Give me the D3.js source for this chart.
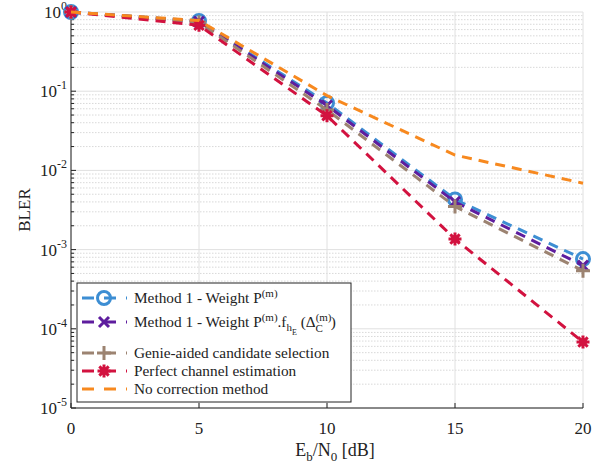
<!DOCTYPE html>
<html>
<head>
<meta charset="utf-8">
<script src="https://cdn.jsdelivr.net/npm/d3@7"></script>
<style>
  body { margin: 0; background: #fff; }
</style>
</head>
<body>
<div id="chart"></div>
<script>
const snr = [0, 5, 10, 15, 20];
const method1 = [1.0, 0.77, 0.071, 0.0043, 0.00076];
const method1Weighted = [1.0, 0.76, 0.066, 0.0040, 0.00063];
const genie = [1.0, 0.74, 0.058, 0.0035, 0.00054];
const perfect = [1.0, 0.68, 0.049, 0.00136, 0.000068];
const noCorrection = [1.0, 0.78, 0.088, 0.0156, 0.0069];
const xTicks = [0, 5, 10, 15, 20];
const yDecades = [0, -1, -2, -3, -4, -5];

const series = [
  { name: 'm1', values: method1, color: '#3d8ed3', marker: 'circle' },
  { name: 'm1w', values: method1Weighted, color: '#5e1d9e', marker: 'cross' },
  { name: 'genie', values: genie, color: '#9c8371', marker: 'plus' },
  { name: 'perfect', values: perfect, color: '#d2123f', marker: 'star' },
  { name: 'none', values: noCorrection, color: '#f7891f', marker: null }
];

const width = 605, height = 472;
const margin = { left: 71, right: 22, top: 12, bottom: 64 };
const serif = "'Liberation Serif', 'Times New Roman', 'DejaVu Serif', serif";
const svg = d3.select('#chart').append('svg')
  .attr('width', width).attr('height', height)
  .attr('font-family', serif)
  .style('font-family', serif);

const x = d3.scaleLinear().domain([0, 20]).range([margin.left, width - margin.right]);
const y = d3.scaleLog().domain([1e-5, 1]).range([height - margin.bottom, margin.top]);

const grid = svg.append('g');
// minor grid
yDecades.slice(1).forEach(p => {
  for (let k = 2; k <= 9; k++) {
    const v = k * Math.pow(10, p);
    grid.append('line')
      .attr('x1', x(0)).attr('x2', x(20))
      .attr('y1', y(v)).attr('y2', y(v))
      .attr('stroke', '#cfcfcf').attr('stroke-width', 0.8)
      .attr('stroke-dasharray', '1.5,1.5');
  }
});
// major grid
yDecades.forEach(p => {
  grid.append('line')
    .attr('x1', x(0)).attr('x2', x(20))
    .attr('y1', y(Math.pow(10, p))).attr('y2', y(Math.pow(10, p)))
    .attr('stroke', '#e0e0e0').attr('stroke-width', 1);
});
xTicks.forEach(t => {
  grid.append('line')
    .attr('x1', x(t)).attr('x2', x(t))
    .attr('y1', y(1)).attr('y2', y(1e-5))
    .attr('stroke', '#e0e0e0').attr('stroke-width', 1);
});

// axes
const axes = svg.append('g').attr('stroke', '#222').attr('stroke-width', 1);
axes.append('line').attr('x1', x(0)).attr('x2', x(0)).attr('y1', y(1)).attr('y2', y(1e-5));
axes.append('line').attr('x1', x(0)).attr('x2', x(20)).attr('y1', y(1e-5)).attr('y2', y(1e-5));
xTicks.forEach(t => {
  axes.append('line').attr('x1', x(t)).attr('x2', x(t))
    .attr('y1', y(1e-5)).attr('y2', y(1e-5) - 5);
});
yDecades.forEach(p => {
  axes.append('line').attr('x1', x(0)).attr('x2', x(0) + 5)
    .attr('y1', y(Math.pow(10, p))).attr('y2', y(Math.pow(10, p)));
  if (p > -5) {
    for (let k = 2; k <= 9; k++) {
      const v = k * Math.pow(10, p - 1);
      axes.append('line').attr('x1', x(0)).attr('x2', x(0) + 3)
        .attr('y1', y(v)).attr('y2', y(v));
    }
  }
});

// tick labels
xTicks.forEach(t => {
  svg.append('text').attr('x', x(t)).attr('y', y(1e-5) + 26)
    .attr('text-anchor', 'middle').attr('font-size', 17).attr('fill', '#222').text(t);
});
yDecades.forEach(p => {
  const t = svg.append('text').attr('x', x(0) - 4).attr('y', y(Math.pow(10, p)) + 6)
    .attr('text-anchor', 'end').attr('font-size', 17).attr('fill', '#222');
  t.append('tspan').text('10');
  t.append('tspan').attr('dy', -8).attr('font-size', 12).text(p);
});

// axis titles
svg.append('text')
  .attr('transform', `translate(30,${(y(1) + y(1e-5)) / 2}) rotate(-90)`)
  .attr('text-anchor', 'middle').attr('font-size', 17).attr('fill', '#222').text('BLER');
const xl = svg.append('text').attr('x', 335).attr('y', 456)
  .attr('text-anchor', 'middle').attr('font-size', 18).attr('fill', '#222');
xl.append('tspan').text('E');
xl.append('tspan').attr('dy', 5).attr('font-size', 13).text('b');
xl.append('tspan').attr('dy', -5).text('/N');
xl.append('tspan').attr('dy', 5).attr('font-size', 13).text('0');
xl.append('tspan').attr('dy', -5).text(' [dB]');

function drawMarker(g, type, cx, cy, color) {
  if (type === 'circle') {
    g.append('circle').attr('cx', cx).attr('cy', cy).attr('r', 6.5)
      .attr('fill', 'none').attr('stroke', color).attr('stroke-width', 3);
  } else if (type === 'cross') {
    const s = 5;
    g.append('path').attr('d', `M${cx - s},${cy - s}L${cx + s},${cy + s}M${cx - s},${cy + s}L${cx + s},${cy - s}`)
      .attr('stroke', color).attr('stroke-width', 3);
  } else if (type === 'plus') {
    const s = 7;
    g.append('path').attr('d', `M${cx - s},${cy}L${cx + s},${cy}M${cx},${cy - s}L${cx},${cy + s}`)
      .attr('stroke', color).attr('stroke-width', 3);
  } else if (type === 'star') {
    const s = 6.5, d = s * 0.72;
    g.append('path').attr('d', `M${cx - s},${cy}L${cx + s},${cy}M${cx},${cy - s}L${cx},${cy + s}M${cx - d},${cy - d}L${cx + d},${cy + d}M${cx - d},${cy + d}L${cx + d},${cy - d}`)
      .attr('stroke', color).attr('stroke-width', 3);
    g.append('circle').attr('cx', cx).attr('cy', cy).attr('r', 3.5).attr('fill', color);
  }
}

const line = d3.line().x((d, i) => x(snr[i])).y(d => y(d));
const plot = svg.append('g');
series.forEach(s => {
  plot.append('path').datum(s.values).attr('d', line)
    .attr('fill', 'none').attr('stroke', s.color).attr('stroke-width', 3)
    .attr('stroke-dasharray', '10,7');
  if (s.marker) s.values.forEach((v, i) => drawMarker(plot, s.marker, x(snr[i]), y(v), s.color));
});

// legend
const lg = svg.append('g');
lg.append('rect').attr('x', 77).attr('y', 283).attr('width', 274).attr('height', 119)
  .attr('fill', '#fff').attr('stroke', '#222').attr('stroke-width', 1);
const legendY = [298, 322, 353, 371, 389];
series.forEach((s, i) => {
  const ly = legendY[i];
  lg.append('line').attr('x1', 82).attr('x2', 127).attr('y1', ly).attr('y2', ly)
    .attr('stroke', s.color).attr('stroke-width', 3).attr('stroke-dasharray', '12,10');
  if (s.marker) drawMarker(lg, s.marker, 104, ly, s.color);
});
const lx = 134;
function legendText(ly) {
  return lg.append('text').attr('x', lx).attr('y', ly + 5).attr('font-size', 15.3).attr('fill', '#222');
}
let t = legendText(legendY[0]);
t.append('tspan').text('Method 1 - Weight P');
t.append('tspan').attr('dy', -6).attr('font-size', 11).text('(m)');
t = legendText(legendY[1]);
t.append('tspan').text('Method 1 - Weight P');
t.append('tspan').attr('dy', -6).attr('font-size', 11).text('(m)');
t.append('tspan').attr('dy', 6).text('.f');
t.append('tspan').attr('dy', 4).attr('font-size', 11).text('h');
t.append('tspan').attr('dy', 4).attr('font-size', 8).text('E');
t.append('tspan').attr('dy', -8).text(' (Δ');
t.append('tspan').attr('dy', -6).attr('font-size', 11).text('(m)');
t.append('tspan').attr('dx', -16).attr('dy', 11).attr('font-size', 11).text('C');
t.append('tspan').attr('dx', 8).attr('dy', -5).text(')');
legendText(legendY[2]).text('Genie-aided candidate selection');
legendText(legendY[3]).text('Perfect channel estimation');
legendText(legendY[4]).text('No correction method');
</script>
</body>
</html>
